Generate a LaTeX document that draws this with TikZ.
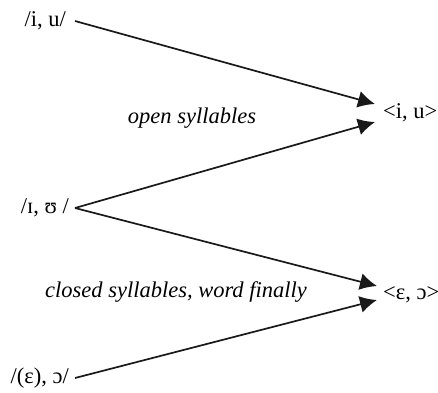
\documentclass[tikz,border=0pt]{standalone}
\usepackage{fontspec}
\setmainfont{Liberation Serif}
\usetikzlibrary{arrows.meta}
\tikzset{
  lbl/.style={inner sep=0pt, font=\fontsize{22.5}{26}\selectfont},
  note/.style={inner sep=0pt, font=\fontsize{22.5}{26}\selectfont\itshape},
  conn/.style={line width=1.7pt, draw=black!90, -{Latex[length=17pt,width=17pt]}}
}
\begin{document}
\begin{tikzpicture}[x=1pt,y=-1pt]
\useasboundingbox (0,0) rectangle (438,392);
% source labels
\node[lbl, anchor=east] (iu) at (66,21) {/i, u/};
\node[lbl, anchor=east] (IU) at (69,208) {/ɪ, ʊ /};
\node[lbl, anchor=east] (eo) at (69,378) {/(ɛ), ɔ/};
% target labels
\node[lbl, anchor=west] (tiu) at (383,113) {<i, u>};
\node[lbl, anchor=west] (teo) at (383,295) {<ɛ, ɔ>};
% notes
\node[note] (open) at (192,118) {open syllables};
\node[note] (closed) at (176,292) {closed syllables, word finally};
% connector end points
\coordinate (s1) at (75,21);
\coordinate (s2) at (75,208);
\coordinate (s3) at (75,378);
\coordinate (t1) at (375,104);
\coordinate (t2) at (375,122);
\coordinate (t3) at (377,286);
\coordinate (t4) at (377,300);
\draw[conn] (s1) -- (t1);
\draw[conn] (s2) -- (t2);
\draw[conn] (s2) -- (t3);
\draw[conn] (s3) -- (t4);
\end{tikzpicture}
\end{document}
